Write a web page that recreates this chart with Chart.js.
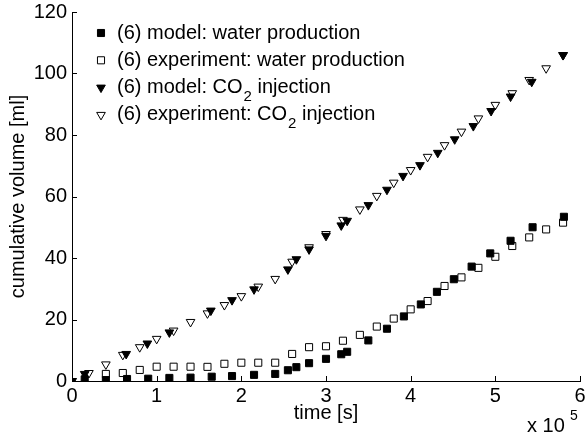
<!DOCTYPE html>
<html>
<head>
<meta charset="utf-8">
<script src="https://cdn.jsdelivr.net/npm/chart.js@4.4.1/dist/chart.umd.min.js"></script>
<style>
  html, body { margin: 0; padding: 0; background: #fff; }
</style>
</head>
<body>
<canvas id="myChart" width="586" height="439"></canvas>
<script>
// time in units of 10^5 s, volume in ml
const waterModelTime = [0.15, 0.40, 0.65, 0.90, 1.15, 1.40, 1.65, 1.89, 2.15, 2.40, 2.55, 2.65, 2.80, 3.00, 3.18, 3.25, 3.50, 3.72, 3.92, 4.12, 4.31, 4.51, 4.72, 4.94, 5.18, 5.44, 5.81];
const waterModelVol = [0.55, 0.3, 0.65, 0.75, 1.0, 1.1, 1.4, 1.6, 2.0, 2.3, 3.5, 4.5, 5.8, 7.2, 8.7, 9.5, 13.2, 17.0, 21.0, 24.9, 29.0, 33.1, 37.2, 41.5, 45.6, 50.0, 53.4];

const waterExpTime = [0.40, 0.60, 0.80, 1.00, 1.20, 1.40, 1.60, 1.80, 2.00, 2.20, 2.40, 2.60, 2.80, 3.00, 3.20, 3.40, 3.60, 3.80, 4.00, 4.20, 4.40, 4.60, 4.80, 5.00, 5.20, 5.40, 5.60, 5.80];
const waterExpVol = [2.3, 2.6, 3.6, 4.65, 4.65, 4.65, 4.6, 5.6, 5.95, 5.95, 5.95, 8.8, 11.0, 11.3, 13.1, 15.0, 17.7, 20.3, 23.3, 26.0, 30.9, 33.7, 36.8, 40.4, 43.9, 46.7, 49.3, 51.5];

const co2ModelTime = [0, 0.15, 0.64, 0.89, 1.15, 1.64, 1.89, 2.15, 2.55, 2.65, 2.80, 3.00, 3.18, 3.25, 3.50, 3.72, 3.91, 4.11, 4.32, 4.52, 4.74, 4.95, 5.18, 5.43, 5.80];
const co2ModelVol = [0, 2.3, 8.8, 12.2, 15.8, 22.9, 26.3, 29.8, 36.3, 39.6, 42.8, 47.2, 50.6, 52.1, 57.2, 62.2, 66.7, 70.2, 74.2, 78.6, 82.9, 87.8, 92.5, 97.3, 106.0];

const co2ExpTime = [0, 0.20, 0.40, 0.60, 0.80, 1.00, 1.20, 1.40, 1.60, 1.80, 2.00, 2.20, 2.40, 2.60, 2.80, 3.00, 3.20, 3.40, 3.60, 3.80, 4.00, 4.20, 4.40, 4.60, 4.80, 5.00, 5.20, 5.40, 5.60, 5.80];
const co2ExpVol = [0, 2.6, 5.4, 8.5, 11.0, 13.7, 16.4, 19.2, 22.0, 24.7, 27.6, 30.7, 33.2, 38.8, 43.5, 47.8, 52.4, 55.8, 60.2, 64.5, 68.6, 72.9, 76.7, 81.1, 85.4, 89.8, 93.6, 97.9, 101.7, 106.0];

const seriesLabels = [
  "(6) model: water production",
  "(6) experiment: water production",
  "(6) model: CO₂ injection",
  "(6) experiment: CO₂ injection",
];
const xTickValues = [0, 1, 2, 3, 4, 5, 6];
const yTickValues = [0, 20, 40, 60, 80, 100, 120];

const FONT = "'Liberation Sans', Arial, Helvetica, sans-serif";

const toPoints = (ts, vs) => ts.map((t, i) => ({ x: t, y: vs[i] }));

// draws the ticks on the inside of the axes, like the original
const insideTicks = {
  id: "insideTicks",
  afterDraw(chart) {
    const { ctx, chartArea, scales } = chart;
    ctx.save();
    ctx.strokeStyle = "#000";
    ctx.lineWidth = 1;
    ctx.beginPath();
    scales.x.ticks.forEach((t) => {
      const px = Math.round(scales.x.getPixelForValue(t.value)) + 0.5;
      ctx.moveTo(px, chartArea.bottom);
      ctx.lineTo(px, chartArea.bottom - 5);
    });
    scales.y.ticks.forEach((t) => {
      const py = Math.round(scales.y.getPixelForValue(t.value)) + 0.5;
      ctx.moveTo(chartArea.left, py);
      ctx.lineTo(chartArea.left + 5, py);
    });
    ctx.stroke();

    // exponent label under the right end of the x axis
    ctx.fillStyle = "#000";
    ctx.textBaseline = "alphabetic";
    ctx.textAlign = "left";
    ctx.font = "20px " + FONT;
    ctx.fillText("x 10", 527, 432);
    ctx.font = "14px " + FONT;
    ctx.fillText("5", 570, 420);
    ctx.restore();
  },
};

// legend in the upper left of the plot, with the CO2 subscript
const matlabLegend = {
  id: "matlabLegend",
  afterDraw(chart) {
    const { ctx } = chart;
    ctx.save();
    chart.data.datasets.forEach((ds, i) => {
      const y = 33 + i * 27.3;
      ctx.fillStyle = ds.pointBackgroundColor;
      ctx.strokeStyle = ds.pointBorderColor;
      ctx.lineWidth = 1;
      Chart.helpers.drawPoint(ctx, {
        pointStyle: ds.pointStyle,
        rotation: ds.pointRotation || 0,
        radius: ds.pointRadius,
        borderWidth: 1,
      }, 101, y);

      ctx.fillStyle = "#000";
      ctx.textBaseline = "middle";
      ctx.textAlign = "left";
      ctx.font = "20px " + FONT;
      const parts = seriesLabels[i].split("₂");
      let x = 117;
      ctx.fillText(parts[0], x, y);
      if (parts.length > 1) {
        x += ctx.measureText(parts[0]).width + 1;
        ctx.font = "15px " + FONT;
        ctx.fillText("2", x, y + 9);
        x += ctx.measureText("2").width;
        ctx.font = "20px " + FONT;
        ctx.fillText(parts[1], x, y);
      }
    });
    ctx.restore();
  },
};

const setupChart = () => {
  const ctx = document.getElementById("myChart");

  const data = {
    datasets: [
      {
        label: seriesLabels[0],
        data: toPoints(waterModelTime, waterModelVol),
        pointStyle: "rect",
        pointRadius: 5,
        pointBackgroundColor: "#000",
        pointBorderColor: "#000",
        pointBorderWidth: 1,
      },
      {
        label: seriesLabels[1],
        data: toPoints(waterExpTime, waterExpVol),
        pointStyle: "rect",
        pointRadius: 5,
        pointBackgroundColor: "rgba(0,0,0,0)",
        pointBorderColor: "#000",
        pointBorderWidth: 1,
      },
      {
        label: seriesLabels[2],
        data: toPoints(co2ModelTime, co2ModelVol),
        pointStyle: "triangle",
        pointRotation: 180,
        pointRadius: 5,
        pointBackgroundColor: "#000",
        pointBorderColor: "#000",
        pointBorderWidth: 1,
      },
      {
        label: seriesLabels[3],
        data: toPoints(co2ExpTime, co2ExpVol),
        pointStyle: "triangle",
        pointRotation: 180,
        pointRadius: 5,
        pointBackgroundColor: "rgba(0,0,0,0)",
        pointBorderColor: "#000",
        pointBorderWidth: 1,
      },
    ],
  };

  const chart = new Chart(ctx, {
    type: "scatter",
    data: data,
    options: {
      responsive: false,
      animation: false,
      events: [],
      layout: { padding: { top: 12, right: 4, left: 0, bottom: 0 } },
      plugins: {
        legend: { display: false },
        tooltip: { enabled: false },
      },
      scales: {
        x: {
          type: "linear",
          min: 0,
          max: 6,
          afterBuildTicks: (scale) => {
            scale.ticks = xTickValues.map((v) => ({ value: v }));
          },
          afterFit: (scale) => {
            scale.height = 58;
            scale.paddingLeft = 0;
            scale.paddingRight = 0;
          },
          ticks: {
            color: "#000",
            font: { family: FONT, size: 20 },
            padding: 3,
            maxRotation: 0,
          },
          grid: { drawOnChartArea: false, drawTicks: false },
          border: { color: "#000", width: 1 },
          title: {
            display: true,
            text: "time [s]",
            color: "#000",
            font: { family: FONT, size: 20 },
            padding: { top: 0, bottom: 14 },
          },
        },
        y: {
          type: "linear",
          min: 0,
          max: 120,
          afterBuildTicks: (scale) => {
            scale.ticks = yTickValues.map((v) => ({ value: v }));
          },
          afterFit: (scale) => {
            scale.width = 72;
            scale.paddingTop = 0;
            scale.paddingBottom = 0;
          },
          ticks: {
            color: "#000",
            font: { family: FONT, size: 20 },
            padding: 5,
          },
          grid: { drawOnChartArea: false, drawTicks: false },
          border: { color: "#000", width: 1 },
          title: {
            display: true,
            text: "cumulative volume [ml]",
            color: "#000",
            font: { family: FONT, size: 20 },
            padding: { top: 6, bottom: 0 },
          },
        },
      },
    },
    plugins: [insideTicks, matlabLegend],
  });
  return chart;
};

setupChart();
</script>
</body>
</html>
